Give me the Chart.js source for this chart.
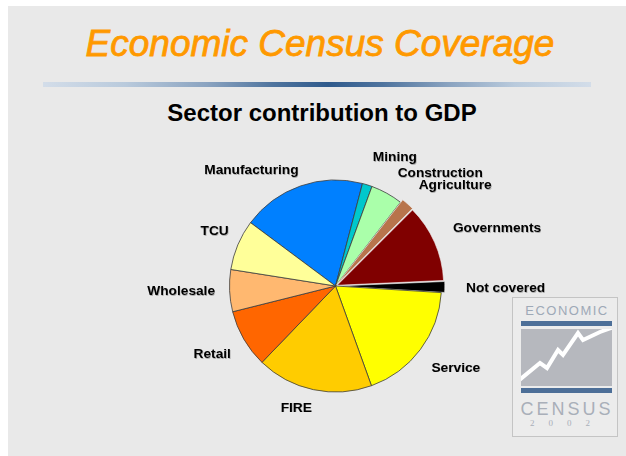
<!DOCTYPE html>
<html>
<head>
<meta charset="utf-8">
<script src="https://cdn.jsdelivr.net/npm/chart.js@4.4.0/dist/chart.umd.min.js"></script>
<style>
  html, body { margin: 0; padding: 0; background: #fff; }
  body { width: 626px; height: 456px; position: relative; overflow: hidden; font-family: "Liberation Sans", Arial, sans-serif; }
  .slide { position: absolute; left: 8px; top: 6px; width: 618px; height: 450px; background: #e9e9e9; }
  .title { position: absolute; left: 7px; top: 25px; width: 626px; text-align: center; font-size: 37px; line-height: 37px; font-style: italic; color: #ff9900; -webkit-text-stroke: 0.8px #ff9900; }
  .rule { position: absolute; left: 43px; top: 82px; width: 548px; height: 5px;
    background: linear-gradient(to right, #d3dde9 0%, #b9cadc 15%, #8aa3c0 30%, #4f749e 42%, #2f5a8c 52%, #4f749e 62%, #8aa3c0 74%, #b9cadc 86%, #d3dde9 100%); }
  .subtitle { position: absolute; left: 9px; top: 101px; width: 626px; text-align: center; font-size: 24px; line-height: 24px; font-weight: bold; color: #000; }
  #logo { position: absolute; left: 512px; top: 297px; }
  #pie { position: absolute; left: 0; top: 0; }
</style>
</head>
<body>
<div class="slide"></div>
<div class="title">Economic Census Coverage</div>
<div class="rule"></div>
<div class="subtitle">Sector contribution to GDP</div>

<svg id="logo" width="106" height="140" viewBox="0 0 106 140">
  <defs>
    <clipPath id="plot-clip"><rect x="9" y="32" width="91" height="57"/></clipPath>
  </defs>
  <rect x="0.5" y="0.5" width="105" height="139" fill="#ececec" stroke="#c4c4c4"/>
  <text x="55" y="18" font-family="Liberation Sans, Arial" font-size="13" letter-spacing="1.5" fill="#9ea9b7" text-anchor="middle">ECONOMIC</text>
  <rect x="9" y="24" width="91" height="5" fill="#4d6f98"/>
  <rect x="9" y="32" width="91" height="57" fill="#b6b8be"/>
  <polyline clip-path="url(#plot-clip)" points="6,84 28,66 35,71 46,53 51,58 66,36 71,43 88,35 104,29" fill="none" stroke="#fff" stroke-width="4"/>
  <rect x="9" y="91" width="91" height="5" fill="#4d6f98"/>
  <text x="55" y="118" font-family="Liberation Sans, Arial" font-size="18" letter-spacing="3" fill="#a9afb9" text-anchor="middle">CENSUS</text>
  <text x="55" y="129" font-family="Liberation Serif, serif" font-size="9" letter-spacing="14" fill="#a9afb9" text-anchor="middle">2002</text>
</svg>

<canvas id="pie" width="626" height="456"></canvas>

<script>
const sectors = ["Manufacturing", "Mining", "Construction", "Agriculture", "Governments",
  "Not covered", "Service", "FIRE", "Retail", "Wholesale", "TCU"];
const gdpShare = [18.9, 1.5, 4.9, 2.0, 11.8, 1.7, 18.5, 17.7, 8.9, 6.4, 7.7];
const sectorColors = ["#0080ff", "#00c8cc", "#aaffaa", "#b8744c", "#800000",
  "#000000", "#ffff00", "#ffcc00", "#ff6600", "#ffb870", "#ffff99"];
const explode = [0, 0, 0, 7, 7, 7, 0, 0, 0, 0, 0];

// label fine-tuning, relative to the point just outside each slice
const labelNudge = [[2, -4], [2, -16], [5, -9.5], [0.5, -6.6], [3, -7], [5.5, 1],
  [1.6, 11.3], [1, 6.5], [-2.5, 9.5], [-2.6, 0], [2, -9]];

const sliceLabels = {
  id: "sliceLabels",
  afterDatasetsDraw(chart, args, opts) {
    const ctx = chart.ctx;
    const meta = chart.getDatasetMeta(0);
    ctx.save();
    ctx.font = opts.font;
    ctx.fillStyle = opts.color;
    ctx.textBaseline = "middle";
    ctx.shadowColor = "rgba(0,0,0,0.25)";
    ctx.shadowOffsetX = 0.6;
    ctx.shadowOffsetY = 0.6;
    meta.data.forEach((arc, i) => {
      const p = arc.getProps(["x", "y", "startAngle", "endAngle", "outerRadius"], true);
      const mid = (p.startAngle + p.endAngle) / 2;
      const r = p.outerRadius + (explode[i] || 0) + opts.gap;
      const [dx, dy] = opts.nudge[i] || [0, 0];
      ctx.textAlign = Math.cos(mid) < 0 ? "right" : "left";
      ctx.fillText(sectors[i], p.x + Math.cos(mid) * r + dx, p.y + Math.sin(mid) * r + dy);
    });
    ctx.restore();
  },
};

new Chart(document.getElementById("pie"), {
  type: "pie",
  data: {
    labels: sectors,
    datasets: [
      {
        data: gdpShare,
        backgroundColor: sectorColors,
        borderColor: explode.map((o) => (o ? "#f2f2f2" : "#3c3c3c")),
        borderWidth: explode.map((o) => (o ? 0.6 : 0.8)),
        offset: explode,
        hoverOffset: 0,
      },
    ],
  },
  options: {
    responsive: false,
    animation: false,
    rotation: -53.3,
    radius: 106,
    layout: { padding: { left: 45, right: 0, top: 116, bottom: 0 } },
    events: [],
    plugins: {
      legend: { display: false },
      tooltip: { enabled: false },
      sliceLabels: {
        font: "bold 13.7px 'Liberation Sans', Arial, sans-serif",
        color: "#000",
        gap: 12,
        nudge: labelNudge,
      },
    },
  },
  plugins: [sliceLabels],
});
</script>
</body>
</html>
